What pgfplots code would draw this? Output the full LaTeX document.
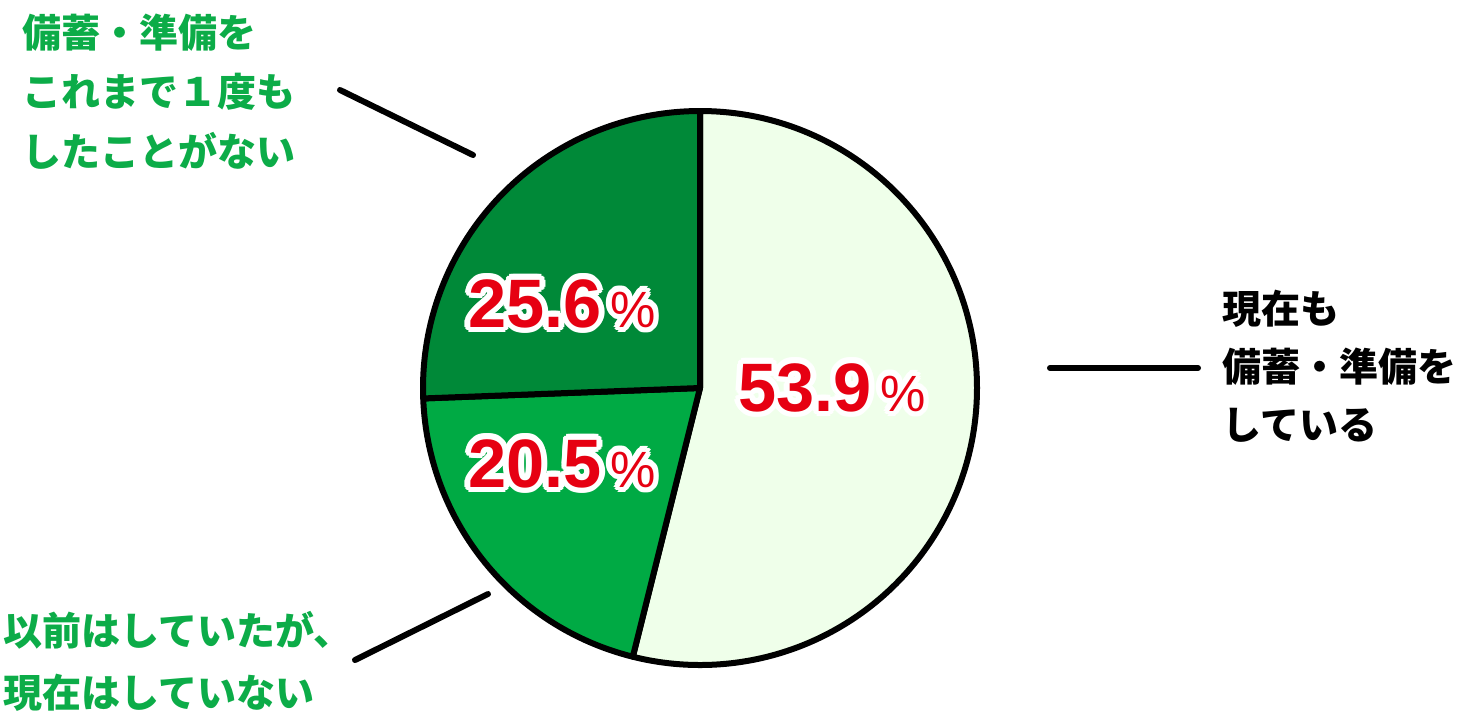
\documentclass[border=0pt]{standalone}
\usepackage{pgfplots}
\pgfplotsset{compat=1.18}
\usepackage{pgfplotstable}
\usepackage{fontspec}
\usepackage{contour}
\setmainfont{Liberation Sans}
\newfontfamily\jp{Noto Sans CJK JP}
\contourlength{1.6pt}

\definecolor{lightg}{RGB}{239,255,234}
\definecolor{midg}{RGB}{0,170,68}
\definecolor{darkg}{RGB}{0,137,56}
\definecolor{labg}{RGB}{12,172,72}
\definecolor{numred}{RGB}{230,0,18}

% share of each group, clockwise from the top
\pgfplotstableread{
pct
53.9
20.5
25.6
}\piedata

\newcommand\pctlabel[1]{\textcolor{numred}{\contour{white}{\bfseries\fontsize{19.5pt}{20pt}\selectfont #1\mdseries\fontsize{14.5pt}{15pt}\selectfont\,\%}}}
\newcommand\jlabel[2]{\node[anchor=base west, inner sep=0, font=\jp\bfseries\fontsize{11.1pt}{14pt}\selectfont, text=#1] at #2}

\begin{document}
\begin{tikzpicture}
\pgfplotstablegetelem{0}{pct}\of\piedata \let\pa\pgfplotsretval
\pgfplotstablegetelem{1}{pct}\of\piedata \let\pb\pgfplotsretval
\pgfplotstablegetelem{2}{pct}\of\piedata \let\pc\pgfplotsretval
\pgfmathsetmacro\aA{90-3.6*\pa}
\pgfmathsetmacro\aB{\aA-3.6*\pb}
\pgfmathsetmacro\aC{\aB-3.6*\pc}
\def\R{27.7mm}
\begin{axis}[
    x=0.1mm, y=0.1mm,
    xmin=0, xmax=1462,
    ymin=0, ymax=720,
    y dir=reverse,
    hide axis,
    clip=false,
]
\path (axis cs:0,0) rectangle (axis cs:1462,720);

% slices
\begin{scope}[draw=black, line width=0.6mm, line join=round]
\filldraw[fill=lightg] (axis cs:700,388) -- ++(90:\R) arc[start angle=90, end angle=\aA, radius=\R] -- cycle;
\filldraw[fill=midg] (axis cs:700,388) -- ++(\aA:\R) arc[start angle=\aA, end angle=\aB, radius=\R] -- cycle;
\filldraw[fill=darkg] (axis cs:700,388) -- ++(\aB:\R) arc[start angle=\aB, end angle=\aC, radius=\R] -- cycle;
\end{scope}

% percentages
\node[anchor=base, inner sep=0] at (axis cs:832,411) {\pctlabel{\pa}};
\node[anchor=base, inner sep=0] at (axis cs:562,487) {\pctlabel{\pb}};
\node[anchor=base, inner sep=0] at (axis cs:562,327) {\pctlabel{\pc}};

% leader lines
\begin{scope}[line width=0.6mm, line cap=round]
\draw (axis cs:340,90) -- (axis cs:473,155);
\draw (axis cs:1050,368) -- (axis cs:1198,368);
\draw (axis cs:355,660) -- (axis cs:488,594);
\end{scope}

% category labels
\jlabel{labg}{(axis cs:22,47)} {備蓄・準備を};
\jlabel{labg}{(axis cs:22,106)} {これまで１度も};
\jlabel{labg}{(axis cs:22,166)} {したことがない};
\jlabel{black}{(axis cs:1222,323)} {現在も};
\jlabel{black}{(axis cs:1222,381)} {備蓄・準備を};
\jlabel{black}{(axis cs:1222,439)} {している};
\jlabel{labg}{(axis cs:3,645)} {以前はしていたが、};
\jlabel{labg}{(axis cs:3,707)} {現在はしていない};
\end{axis}
\end{tikzpicture}
\end{document}
